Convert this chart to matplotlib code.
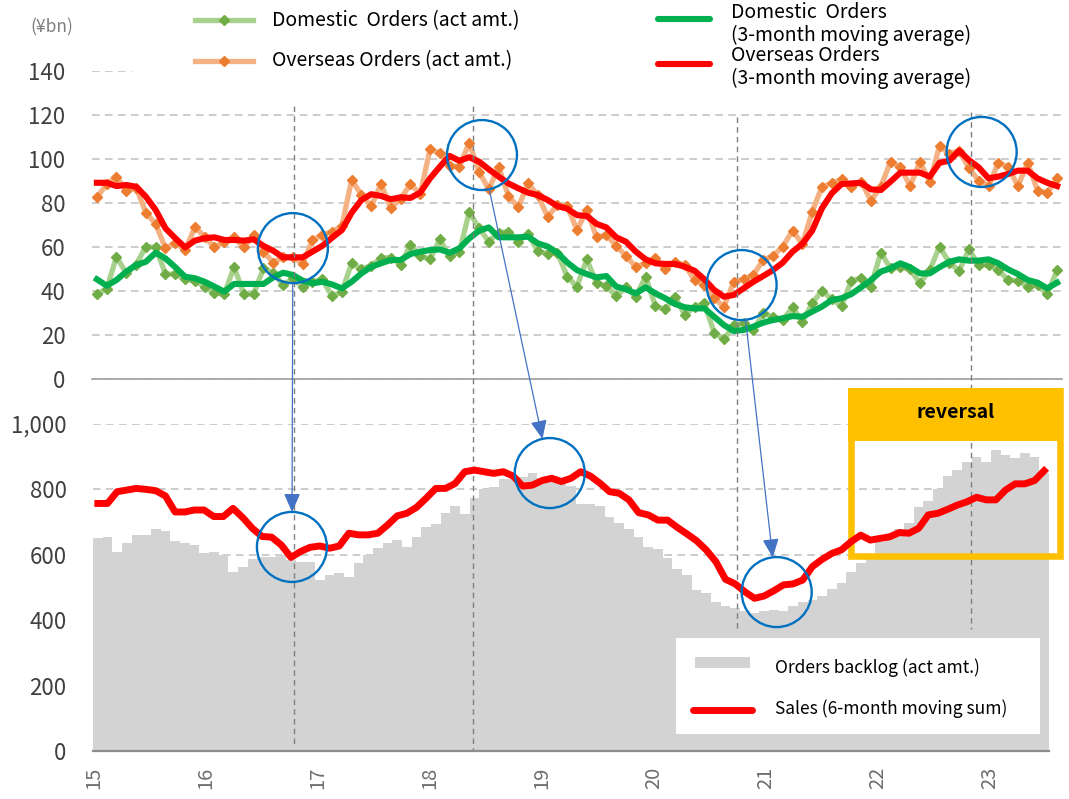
import numpy as np
import matplotlib
matplotlib.use("Agg")
import matplotlib.pyplot as plt
from matplotlib.lines import Line2D
from matplotlib.patches import Rectangle, Ellipse, ConnectionPatch
from matplotlib.ticker import FuncFormatter

plt.rcParams['font.family'] = ['Noto Sans CJK JP', 'DejaVu Sans']

# Monthly data, Jan 2015 - Mar 2023 (¥bn)
domestic_act = [38.6, 41, 55.6, 48, 52, 60.2, 59.8, 47.7, 47.7, 45.3, 44.7, 42, 39, 38.6, 51, 38.6,
                38.6, 50.3, 48.3, 42.7, 45.8, 41.7, 44.2, 45.3, 37.7, 39.7, 52.6, 50, 51.5, 55, 55.2, 52,
                61, 56, 54.5, 63.5, 55.7, 57.7, 76, 68.5, 62.5, 66.5, 67, 62.5, 66, 58, 57, 57.5,
                46.5, 42, 54.4, 43.5, 42.3, 37.7, 41.7, 37.4, 46.5, 33.2, 31.7, 37.4, 29.1, 32.9, 34.4, 21.1,
                18, 24.5, 25.3, 22.3, 29.8, 28.3, 26.8, 32.6, 26, 34.4, 40.2, 36.2, 33.2, 44.7, 45.8, 42,
                57.4, 50.3, 50.8, 49.8, 43.5, 49.5, 60.2, 52.9, 49.2, 58.9, 51.8, 51.8, 49.5, 45, 44.7, 42,
                42.7, 38.6, 49.5]
overseas_act = [82.6, 88.5, 92, 85.6, 87, 75.6, 70.5, 59.4, 62, 58.6, 69, 64.7, 59.8, 62.4, 64.4, 59.8,
                65.5, 57.9, 52.9, 55.3, 55.6, 52.3, 63.2, 65.5, 67, 69.5, 90.5, 83.6, 78.6, 88.6, 77.6, 82,
                88.6, 84.1, 104.4, 102.6, 97, 96.5, 107.4, 94.2, 86.2, 96.5, 83.2, 78, 88.9, 83.6, 73.8, 79.1,
                78.6, 67.7, 76.8, 64.4, 65.5, 60.5, 55.9, 51, 52.6, 54.8, 49.8, 53.3, 51.8, 45, 42.7, 36.7,
                32.9, 44.2, 45.3, 47.3, 54.1, 55.9, 60.2, 67.4, 61.4, 76, 87.4, 88.9, 90.8, 87.4, 89.7, 81.1,
                87.4, 98.8, 96.2, 87.7, 98.8, 89.7, 105.9, 102.3, 103.8, 95.8, 90.2, 87.7, 98.3, 96.5, 87.7, 98.3,
                85.6, 84.7, 91.2]
domestic_ma3 = [45.3, 42.4, 45, 48.8, 51.8, 53.3, 57.4, 54.8, 50.8, 46.5, 45.8, 44.2, 42, 39.7, 43.2, 43.2,
                43.2, 43.2, 46.2, 48.3, 47.3, 44.7, 43.5, 44.2, 43, 41.2, 44.2, 48, 51, 52.6, 54.1, 54.1,
                56.8, 57.9, 58.6, 58.9, 57.4, 59.4, 63.9, 67.4, 68.9, 64.4, 64.4, 64.4, 64.7, 61.7, 60.2, 57.4,
                53, 49.5, 47.7, 46.2, 46.8, 42, 40.8, 38.9, 41.7, 38.9, 36.7, 34.1, 32.6, 32.1, 32.1, 28.3,
                24.5, 21.8, 22.3, 23.8, 25.6, 26.8, 27.6, 28.6, 28.3, 30.6, 32.9, 35.9, 36.7, 38.6, 41.7, 45,
                48.8, 50.3, 52.6, 50.8, 48, 48, 50.8, 53.3, 54.4, 53.8, 53.8, 54.4, 52.6, 49.8, 47.7, 45,
                43.8, 41.2, 43.8]
overseas_ma3 = [89.2, 89.2, 87.7, 88.2, 87.4, 82.9, 76.8, 68.5, 64, 59.8, 62.9, 64, 64.4, 63.2, 63.2, 62.9,
                63.5, 60.5, 58.3, 55.3, 55.3, 55.3, 57.9, 60.5, 64.2, 67.7, 75.6, 81.4, 84, 83.2, 81.7, 82.6,
                82.3, 84.7, 91.2, 96.5, 101.4, 99.2, 100.8, 98.8, 95.3, 92, 88.9, 86.7, 84.7, 83.6, 81.4, 78.6,
                77.4, 74.5, 74.1, 70.5, 68.9, 64.4, 62.4, 57.9, 54.4, 52.6, 52.3, 52.3, 51, 49.2, 45.3, 40.5,
                37.4, 38.2, 41.2, 44.2, 46.8, 49.5, 52.9, 57.9, 61.4, 67.4, 77.6, 84.4, 88.6, 88.9, 89.2, 86.2,
                85.9, 89.7, 93.8, 93.8, 93.8, 92, 98.3, 99.2, 103.8, 99.5, 96.2, 91.2, 92, 93.2, 94.7, 94.7,
                91.2, 89.2, 87.7]
backlog = [652, 655, 610, 635, 660, 660, 678, 674, 643, 635, 630, 604, 610, 599, 548, 564,
           586, 592, 594, 599, 584, 579, 579, 523, 537, 545, 531, 574, 599, 620, 635, 645,
           625, 655, 684, 694, 729, 749, 725, 773, 800, 806, 831, 831, 839, 849, 836, 826,
           820, 810, 755, 755, 749, 715, 698, 678, 653, 623, 617, 589, 556, 538, 492, 482,
           457, 443, 436, 428, 422, 428, 432, 428, 443, 455, 462, 474, 494, 515, 548, 574,
           599, 640, 660, 678, 696, 745, 766, 800, 841, 859, 885, 900, 885, 920, 905, 895,
           912, 898, 849]
sales_6m = [757, 757, 793, 798, 803, 800, 796, 780, 731, 731, 737, 737, 717, 717, 742, 714,
            681, 656, 654, 630, 592, 610, 623, 627, 620, 627, 666, 661, 661, 666, 691, 719,
            727, 745, 773, 803, 803, 818, 854, 859, 854, 849, 854, 841, 810, 813, 827, 834,
            824, 834, 854, 841, 819, 793, 788, 768, 729, 722, 706, 706, 684, 664, 643, 615,
            579, 525, 511, 487, 467, 474, 490, 508, 511, 523, 564, 586, 604, 615, 640, 660,
            645, 650, 655, 668, 666, 681, 722, 727, 739, 752, 762, 776, 768, 768, 798, 817,
            817, 827, 857]
year_labels = ['15', '16', '17', '18', '19', '20', '21', '22', '23']

W, H = 1069, 799
fig = plt.figure(figsize=(W / 100, H / 100), dpi=100)


def fx(px):
    return px / W


def fy(py):
    return 1 - py / H


ax1 = fig.add_axes([fx(92), fy(379), (1062 - 92) / W, (379 - 71) / H])
ax2 = fig.add_axes([fx(93), fy(751), (1049 - 93) / W, (751 - 424) / H])

x = np.arange(len(domestic_act))
grid_kw = dict(color='#BFBFBF', linewidth=1.1, linestyle=(0, (5, 3.5)))

dom_act_kw = dict(color='#A9D18E', lw=3.8, marker='D', ms=5.5, mfc='#70AD47', mec='#70AD47')
ovs_act_kw = dict(color='#F4B183', lw=3.8, marker='D', ms=5.5, mfc='#ED7D31', mec='#ED7D31')
dom_ma_kw = dict(color='#00B050', lw=4.4)
ovs_ma_kw = dict(color='#FF0000', lw=4.4)

# ---- top panel: orders
ax1.plot(x, domestic_act, zorder=3, **dom_act_kw)
ax1.plot(x, overseas_act, zorder=3, **ovs_act_kw)
ax1.plot(x, domestic_ma3, zorder=4, **dom_ma_kw)
ax1.plot(x, overseas_ma3, zorder=4, **ovs_ma_kw)
ax1.set_xlim(-0.5, len(x) - 0.5)
ax1.set_ylim(0, 140)
ax1.set_yticks(range(0, 141, 20))
ax1.set_xticks([])
ax1.grid(axis='y', **grid_kw)
ax1.set_axisbelow(True)
for s in ['top', 'right', 'left']:
    ax1.spines[s].set_visible(False)
ax1.spines['bottom'].set_color('#A6A6A6')
ax1.spines['bottom'].set_linewidth(1.3)
ax1.tick_params(axis='y', length=0, pad=19, labelsize=16, labelcolor='#404040')

# ---- bottom panel: backlog & sales
ax2.bar(x, backlog, width=1.0, color='#D3D3D3', linewidth=0, zorder=1)
ax2.plot(x, sales_6m, color='#FF0000', lw=5, zorder=3, solid_joinstyle='round')
ax2.set_xlim(-0.5, len(x) - 0.5)
ax2.set_ylim(0, 1000)
ax2.set_yticks(range(0, 1001, 200))
ax2.yaxis.set_major_formatter(FuncFormatter(lambda v, p: f'{v:,.0f}'))
ax2.set_xticks(np.arange(len(year_labels)) * 11.6 - 0.4)
ax2.set_xticklabels(year_labels, rotation=90)
ax2.grid(axis='y', **grid_kw)
ax2.set_axisbelow(True)
for s in ['top', 'right', 'left']:
    ax2.spines[s].set_visible(False)
ax2.spines['bottom'].set_color('#8C8C8C')
ax2.spines['bottom'].set_linewidth(1.6)
ax2.tick_params(axis='y', length=0, pad=19, labelsize=16, labelcolor='#404040')
ax2.tick_params(axis='x', length=0, pad=11, labelsize=14.5, labelcolor='#6E6E6E')

# vertical dashed guide lines
for xp, y0, y1 in [(294, 106, 745), (473, 106, 751), (737, 117, 632), (971, 112, 629)]:
    ax2.add_artist(Line2D([fx(xp), fx(xp)], [fy(y0), fy(y1)], transform=fig.transFigure,
                          color='#7F7F7F', lw=1.0, linestyle=(0, (4, 3)), clip_on=False, zorder=2))

# "reversal" box
ax2.add_artist(Rectangle((fx(848), fy(441)), (1063 - 848) / W, (441 - 388) / H,
                         transform=fig.transFigure, fc='#FFC000', ec='none', clip_on=False, zorder=2.5))
ax2.add_artist(Rectangle((fx(851.3), fy(555.7)), (1059.7 - 851.3) / W, (555.7 - 391.3) / H,
                         transform=fig.transFigure, fill=False, ec='#FFC000', lw=4.7,
                         clip_on=False, zorder=2.5))
fig.text(fx(956), fy(413), 'reversal', ha='center', va='center', fontsize=14,
         fontweight='bold', color='black', zorder=11)

# bottom legend
ax2.add_artist(Rectangle((fx(676), fy(734)), (1040 - 676) / W, (734 - 638) / H,
                         transform=fig.transFigure, fc='white', ec='none', clip_on=False, zorder=4))
ax2.add_artist(Rectangle((fx(695), fy(668)), 55 / W, 11 / H, transform=fig.transFigure,
                         fc='#D3D3D3', ec='none', clip_on=False, zorder=5))
ax2.add_artist(Line2D([fx(693), fx(752)], [fy(710), fy(710)], transform=fig.transFigure,
                      color='#FF0000', lw=5, solid_capstyle='round', clip_on=False, zorder=5))
fig.text(fx(775), fy(668), 'Orders backlog (act amt.)', ha='left', va='center', fontsize=12.5, zorder=11)
fig.text(fx(775), fy(709), 'Sales (6-month moving sum)', ha='left', va='center', fontsize=12.5, zorder=11)

# top legend (white backing hides the 140 gridline)
fig.add_artist(Rectangle((fx(132), fy(88)), (W - 132) / W, 88 / H, transform=fig.transFigure,
                         fc='white', ec='none', zorder=1))
for yp, kw in [(20, dom_act_kw), (61, ovs_act_kw)]:
    fig.add_artist(Line2D([fx(195), fx(224), fx(253)], [fy(yp)] * 3, transform=fig.transFigure,
                          markevery=[1], zorder=2, **kw))
for yp, kw in [(19, dom_ma_kw), (64, ovs_ma_kw)]:
    fig.add_artist(Line2D([fx(658), fx(710)], [fy(yp)] * 2, transform=fig.transFigure,
                          solid_capstyle='round', zorder=2, **kw))
fig.text(fx(272), fy(21), 'Domestic  Orders (act amt.)', ha='left', va='center', fontsize=14, zorder=3)
fig.text(fx(272), fy(61), 'Overseas Orders (act amt.)', ha='left', va='center', fontsize=14, zorder=3)
fig.text(fx(731), fy(24), 'Domestic  Orders\n(3-month moving average)', ha='left', va='center',
         fontsize=14, linespacing=1.1, zorder=3)
fig.text(fx(731), fy(67), 'Overseas Orders\n(3-month moving average)', ha='left', va='center',
         fontsize=14, linespacing=1.1, zorder=3)
fig.text(fx(52), fy(27), '(¥bn)', ha='center', va='center', fontsize=12.5, color='#808080')

# circles and arrows linking turning points
circ_top = [(20, 59.5), (39.3, 101.8), (65.8, 42.7), (90.3, 103.2)]
circ_bot = [(20.1, 624), (46.8, 850), (70.3, 486)]
R = 35


def add_circle(ax, xy):
    p = fig.transFigure.inverted().transform(ax.transData.transform(xy))
    fig.add_artist(Ellipse(p, 2 * R / W, 2 * R / H, transform=fig.transFigure, fill=False,
                           ec='#0070C0', lw=1.7, zorder=10))


for c in circ_top:
    add_circle(ax1, c)
for c in circ_bot:
    add_circle(ax2, c)
for a, b in zip(circ_top, circ_bot):
    con = ConnectionPatch(xyA=a, coordsA=ax1.transData, xyB=b, coordsB=ax2.transData,
                          arrowstyle='-|>,head_length=1.15,head_width=0.5', mutation_scale=10,
                          shrinkA=25, shrinkB=25, color='#4472C4', lw=0.9, zorder=10)
    fig.add_artist(con)

fig.savefig('out.png', dpi=100)
